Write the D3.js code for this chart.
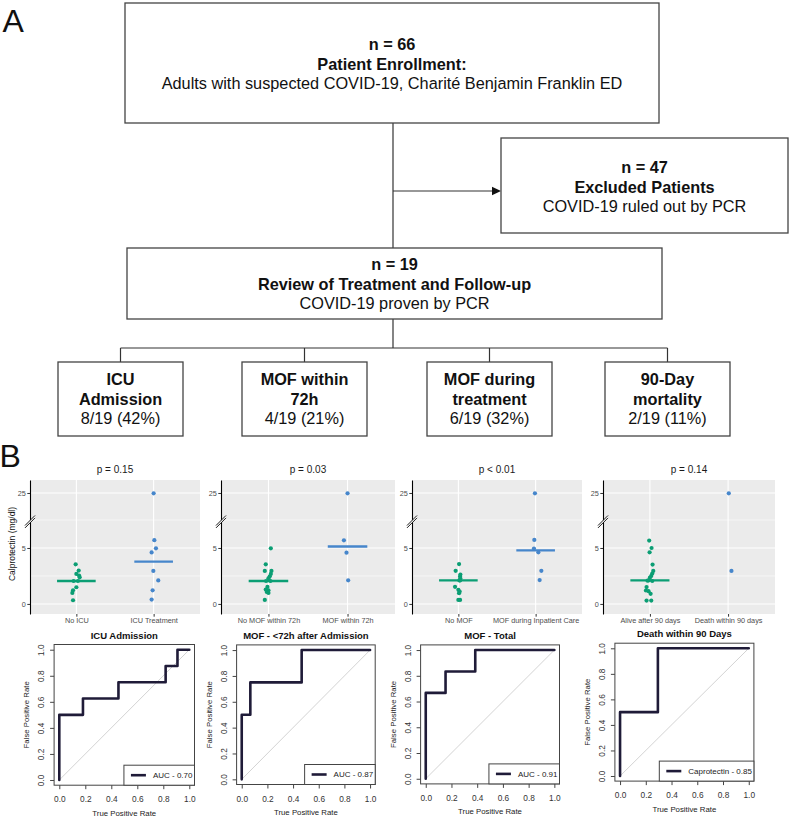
<!DOCTYPE html>
<html><head><meta charset="utf-8">
<script src="https://cdn.jsdelivr.net/npm/d3@7/dist/d3.min.js"></script>
<style>
html,body{margin:0;padding:0;background:#fff;}
svg{display:block;}
</style></head>
<body>
<svg id="fig" width="791" height="818"></svg>
<script>
// ================= DATA =================
// Flow chart (panel A)
const enrollText   = ["n = 66", "Patient Enrollment:", "Adults with suspected COVID-19, Charité Benjamin Franklin ED"];
const excludedText = ["n = 47", "Excluded Patients", "COVID-19 ruled out by PCR"];
const reviewText   = ["n = 19", "Review of Treatment and Follow-up", "COVID-19 proven by PCR"];
const outcomeNames  = [["ICU", "Admission"], ["MOF within", "72h"], ["MOF during", "treatment"], ["90-Day", "mortality"]];
const outcomeCounts = ["8/19 (42%)", "4/19 (21%)", "6/19 (32%)", "2/19 (11%)"];

// Dot plots (panel B, top row)
const pLabels = ["p = 0.15", "p = 0.03", "p < 0.01", "p = 0.14"];
const groupNames = [
  ["No ICU", "ICU Treatment"],
  ["No MOF within 72h", "MOF within 72h"],
  ["No MOF", "MOF during Inpatient Care"],
  ["Alive after 90 days", "Death within 90 days"]
];
const yTickValues  = [0, 5, 25];
const yMinorValues = [2.5, 7.5];
const yAxisTitle = "Calprotectin (mg/dl)";

// calprotectin values (mg/dl) and horizontal jitter (fraction of category step)
const noIcuValues = [3.54, 2.98, 2.68, 2.53, 2.38, 2.05, 2.05, 1.49, 1.22, 0.98, 0.33];
const noIcuJitter = [-0.009, 0.030, 0.0, 0.035, 0.043, -0.035, 0.020, 0.0, -0.043, -0.052, -0.043];
const icuValues   = [24.8, 5.70, 4.97, 4.60, 2.95, 2.10, 1.22, 0.39];
const icuJitter   = [0.0, 0.009, 0.030, -0.026, -0.004, 0.060, -0.013, -0.026];

const noMof72Values = [4.97, 3.54, 2.95, 2.95, 2.68, 2.47, 2.29, 2.05, 2.05, 1.52, 1.28, 1.22, 1.07, 0.98, 0.36];
const noMof72Jitter = [0.030, -0.034, -0.046, 0.038, 0.030, 0.017, 0.0, -0.030, 0.025, -0.013, -0.034, 0.0, -0.021, 0.0, -0.046];
const mof72Values   = [24.8, 5.68, 4.58, 2.11];
const mof72Jitter   = [0.0, -0.046, -0.013, 0.008];

const noMofValues = [3.56, 2.96, 2.63, 2.46, 2.28, 2.10, 2.10, 1.53, 1.26, 1.11, 0.96, 0.36, 0.36];
const noMofJitter = [0.009, -0.035, 0.026, 0.022, 0.026, 0.013, 0.022, -0.043, 0.0, 0.017, 0.009, 0.0, 0.022];
const mofValues   = [24.8, 5.72, 4.95, 4.61, 2.96, 2.13];
const mofJitter   = [-0.009, -0.017, -0.022, 0.035, 0.074, 0.052];

const alive90Values = [5.66, 5.00, 4.61, 3.52, 2.95, 2.71, 2.50, 2.35, 2.11, 2.08, 2.05, 1.51, 1.20, 1.14, 0.90, 0.30, 0.30];
const alive90Jitter = [-0.009, 0.021, -0.004, 0.034, 0.043, 0.030, 0.017, 0.0, -0.013, -0.030, 0.030, -0.043, -0.051, -0.017, 0.009, -0.043, 0.017];
const death90Values = [24.8, 2.95];
const death90Jitter = [0.009, 0.043];

// ROC curves (panel B, bottom row)
const rocTitles = ["ICU Admission", "MOF - <72h after Admission", "MOF - Total", "Death within 90 Days"];
const rocLegend = ["AUC - 0.70", "AUC - 0.87", "AUC - 0.91", "Caprotectin - 0.85"];
const rocTickValues = [0, 0.2, 0.4, 0.6, 0.8, 1.0];
const rocXTitle = "True Positive Rate";
const rocYTitle = "False Positive Rate";
const rocIcuX   = [0, 0, 0.182, 0.182, 0.455, 0.455, 0.818, 0.818, 0.909, 0.909, 1];
const rocIcuY   = [0, 0.5, 0.5, 0.625, 0.625, 0.75, 0.75, 0.875, 0.875, 1, 1];
const rocMof72X = [0, 0, 0.067, 0.067, 0.467, 0.467, 1];
const rocMof72Y = [0, 0.5, 0.5, 0.75, 0.75, 1, 1];
const rocMofX   = [0, 0, 0.154, 0.154, 0.385, 0.385, 1];
const rocMofY   = [0, 0.667, 0.667, 0.833, 0.833, 1, 1];
const rocDeathX = [0, 0, 0.294, 0.294, 1];
const rocDeathY = [0, 0.5, 0.5, 1, 1];

// ================= DRAWING =================
const FONT = '"Liberation Sans", Arial, Helvetica, sans-serif';
const svg = d3.select("#fig").attr("font-family", FONT);

// panel letters
svg.append("text").attr("x", 2.5).attr("y", 31.5).attr("font-size", 32).attr("fill", "#111").text("A");
svg.append("text").attr("x", -0.5).attr("y", 467).attr("font-size", 32).attr("fill", "#111").text("B");

// ---------- Flow chart ----------
const LINE_C = "#333", BOX_C = "#444";
const conn = svg.append("g").attr("stroke", LINE_C).attr("stroke-width", 1.2).attr("fill", "none");
const outLefts = [58, 242, 427, 605], outW = 125, outTop = 362, outH = 74;
const outCenters = outLefts.map(l => l + outW / 2);
conn.append("path").attr("d", "M393,123V248");
conn.append("path").attr("d", "M393,319V348");
conn.append("path").attr("d", `M${outCenters[0]},348H${outCenters[3]}`);
outCenters.forEach(c => conn.append("path").attr("d", `M${c},348V${outTop}`));
conn.append("path").attr("d", "M393,191H494");
svg.append("path").attr("d", "M501,191L492,186.8L492,195.2Z").attr("fill", "#111");

function drawBox(x, y, w, h) {
  svg.append("rect").attr("x", x).attr("y", y).attr("width", w).attr("height", h)
    .attr("fill", "#fff").attr("stroke", BOX_C).attr("stroke-width", 1.3);
}
function drawLines(cx, baselines, texts, weights) {
  texts.forEach((t, i) => svg.append("text").attr("x", cx).attr("y", baselines[i])
    .attr("text-anchor", "middle").attr("font-size", 16.3).attr("font-weight", weights[i])
    .attr("fill", "#111").text(t));
}
drawBox(125, 3, 534, 120);
drawLines(392, [50.3, 69.5, 88.6], enrollText, ["bold", "bold", "normal"]);
drawBox(501, 138, 287, 95);
drawLines(644.5, [172.7, 192.8, 212.3], excludedText, ["bold", "bold", "normal"]);
drawBox(127, 248, 535, 71);
drawLines(394.5, [270, 289.5, 309], reviewText, ["bold", "bold", "normal"]);
outLefts.forEach((l, i) => {
  drawBox(l, outTop, outW, outH);
  drawLines(outCenters[i], [385, 404.5, 424],
    [outcomeNames[i][0], outcomeNames[i][1], outcomeCounts[i]], ["bold", "bold", "normal"]);
});

// ---------- Dot plots ----------
const GREEN = "#0B9E74", BLUE = "#4686CB";
const dotPanels = [
  { left: 30,  right: 200, neg: noIcuValues,   negJ: noIcuJitter,   pos: icuValues,     posJ: icuJitter },
  { left: 221, right: 395, neg: noMof72Values, negJ: noMof72Jitter, pos: mof72Values,   posJ: mof72Jitter },
  { left: 412, right: 582, neg: noMofValues,   negJ: noMofJitter,   pos: mofValues,     posJ: mofJitter },
  { left: 603, right: 775, neg: alive90Values, negJ: alive90Jitter, pos: death90Values, posJ: death90Jitter }
];
const PT = 480, PB = 614;
const yDot = d3.scaleLinear().domain([-0.9, 7.5, 33.4]).range([PB, 520, PT]);

dotPanels.forEach((p, i) => {
  const g = svg.append("g");
  const x = d3.scalePoint().domain(groupNames[i]).range([p.left, p.right]).padding(0.6);
  const step = x.step();
  g.append("rect").attr("x", p.left).attr("y", PT).attr("width", p.right - p.left).attr("height", PB - PT).attr("fill", "#EBEBEB");
  g.selectAll(".mn").data(yMinorValues).join("line")
    .attr("x1", p.left).attr("x2", p.right).attr("y1", d => yDot(d)).attr("y2", d => yDot(d))
    .attr("stroke", "#fff").attr("stroke-width", 0.55);
  g.selectAll(".mj").data(yTickValues).join("line")
    .attr("x1", p.left).attr("x2", p.right).attr("y1", d => yDot(d)).attr("y2", d => yDot(d))
    .attr("stroke", "#fff").attr("stroke-width", 1.1);
  g.selectAll(".vg").data(x.domain()).join("line")
    .attr("x1", d => x(d)).attr("x2", d => x(d)).attr("y1", PT).attr("y2", PB)
    .attr("stroke", "#fff").attr("stroke-width", 1.1);

  const groups = [
    { name: groupNames[i][0], vals: p.neg, jit: p.negJ, col: GREEN },
    { name: groupNames[i][1], vals: p.pos, jit: p.posJ, col: BLUE }
  ];
  groups.forEach(gr => {
    const med = d3.median(gr.vals);
    if (!(med > 7.5 && med < 25)) {
      g.append("line").attr("x1", x(gr.name) - 0.25 * step).attr("x2", x(gr.name) + 0.25 * step)
        .attr("y1", yDot(med)).attr("y2", yDot(med)).attr("stroke", gr.col).attr("stroke-width", 2.3);
    }
  });
  groups.forEach(gr => {
    g.selectAll(null).data(gr.vals).join("circle")
      .attr("cx", (d, k) => x(gr.name) + gr.jit[k] * step)
      .attr("cy", d => yDot(d)).attr("r", 2.1).attr("fill", gr.col);
  });

  // y axis
  const gy = g.append("g").attr("transform", `translate(${p.left},0)`)
    .call(d3.axisLeft(yDot).tickValues(yTickValues).tickSize(2.7).tickSizeOuter(0).tickPadding(1.5));
  gy.attr("font-family", FONT).attr("font-size", 7.3);
  gy.select(".domain").attr("stroke", "#000").attr("stroke-width", 1.1);
  gy.selectAll(".tick line").attr("stroke", "#333").attr("stroke-width", 1);
  gy.selectAll(".tick text").attr("fill", "#4D4D4D");
  // axis break mark
  const L = p.left, yb = yDot(7.5) + 1.5;
  g.append("path").attr("d", `M${L - 5},${yb + 4}L${L + 5},${yb - 6}L${L + 5},${yb - 3.6}L${L - 5},${yb + 6.4}Z`).attr("fill", "#fff");
  g.append("path").attr("d", `M${L - 5},${yb + 4}L${L + 5},${yb - 6}M${L - 5},${yb + 6.4}L${L + 5},${yb - 3.6}`)
    .attr("stroke", "#000").attr("stroke-width", 0.9);

  // x axis
  const gx = g.append("g").attr("transform", `translate(0,${PB})`)
    .call(d3.axisBottom(x).tickSize(2.7).tickSizeOuter(0).tickPadding(1.4));
  gx.attr("font-family", FONT).attr("font-size", 7.3);
  gx.select(".domain").remove();
  gx.selectAll(".tick line").attr("stroke", "#333").attr("stroke-width", 1);
  gx.selectAll(".tick text").attr("fill", "#4D4D4D");

  g.append("text").attr("x", (p.left + p.right) / 2).attr("y", 473).attr("text-anchor", "middle")
    .attr("font-size", 10).attr("fill", "#1a1a1a").text(pLabels[i]);
  if (i === 0) {
    g.append("text").attr("transform", `translate(15,544) rotate(-90)`).attr("text-anchor", "middle")
      .attr("font-size", 8.5).attr("fill", "#111").text(yAxisTitle);
  }
});

// ---------- ROC curves ----------
const ROC_C = "#1F1B38";
const rocPanels = [
  { left: 54.1,  top: 644.5, w: 140.4, h: 140.7, xs: rocIcuX,   ys: rocIcuY },
  { left: 236.6, top: 644.9, w: 138.6, h: 139.6, xs: rocMof72X, ys: rocMof72Y },
  { left: 420.6, top: 644.9, w: 138.9, h: 139.0, xs: rocMofX,   ys: rocMofY },
  { left: 614.9, top: 643.2, w: 139.0, h: 137.9, xs: rocDeathX, ys: rocDeathY }
];
rocPanels.forEach((p, i) => {
  const g = svg.append("g");
  const x = d3.scaleLinear().domain([-0.04, 1.04]).range([p.left, p.left + p.w]);
  const y = d3.scaleLinear().domain([-0.04, 1.04]).range([p.top + p.h, p.top]);
  const bottom = p.top + p.h;

  g.append("line").attr("x1", x(0)).attr("y1", y(0)).attr("x2", x(1)).attr("y2", y(1))
    .attr("stroke", "#C8C8C8").attr("stroke-width", 0.8);
  const pts = p.xs.map((v, k) => [v, p.ys[k]]);
  g.append("path").attr("d", d3.line().x(d => x(d[0])).y(d => y(d[1]))(pts))
    .attr("fill", "none").attr("stroke", ROC_C).attr("stroke-width", 2.6)
    .attr("stroke-linejoin", "round").attr("stroke-linecap", "round");
  g.append("rect").attr("x", p.left).attr("y", p.top).attr("width", p.w).attr("height", p.h)
    .attr("fill", "none").attr("stroke", "#444").attr("stroke-width", 1);

  const fmt = d3.format(".1f");
  const gx = g.append("g").attr("transform", `translate(0,${bottom})`)
    .call(d3.axisBottom(x).tickValues(rocTickValues).tickFormat(fmt).tickSize(4).tickSizeOuter(0).tickPadding(7.4));
  gx.attr("font-family", FONT).attr("font-size", 8.3);
  gx.select(".domain").remove();
  gx.selectAll(".tick line").attr("stroke", "#444");
  gx.selectAll(".tick text").attr("fill", "#333");

  const gy = g.append("g").attr("transform", `translate(${p.left},0)`)
    .call(d3.axisLeft(y).tickValues(rocTickValues).tickFormat(fmt).tickSize(4).tickSizeOuter(0));
  gy.attr("font-family", FONT).attr("font-size", 8.3);
  gy.select(".domain").remove();
  gy.selectAll(".tick line").attr("stroke", "#444");
  gy.selectAll(".tick text").attr("fill", "#333").attr("x", null).attr("dy", null)
    .attr("text-anchor", "middle").attr("transform", "translate(-10,0) rotate(-90)");

  g.append("text").attr("x", p.left + p.w / 2).attr("y", p.top - 6).attr("text-anchor", "middle")
    .attr("font-size", 9.5).attr("font-weight", "bold").attr("fill", "#111").text(rocTitles[i]);
  g.append("text").attr("x", p.left + p.w / 2).attr("y", bottom + 30.5).attr("text-anchor", "middle")
    .attr("font-size", 7.8).attr("fill", "#222").text(rocXTitle);
  g.append("text").attr("transform", `translate(${p.left - 25},${p.top + p.h / 2}) rotate(-90)`)
    .attr("text-anchor", "middle").attr("font-size", 7.8).attr("fill", "#222").text(rocYTitle);

  // legend (bottom right)
  const lg = g.append("g");
  const rect = lg.append("rect");
  const t = lg.append("text").attr("font-size", 8).attr("fill", "#222").text(rocLegend[i]);
  const tw = t.node().getComputedTextLength();
  const bw = tw + 31, bh = 20;
  const bx = p.left + p.w - bw, by = bottom - bh;
  rect.attr("x", bx).attr("y", by).attr("width", bw).attr("height", bh)
    .attr("fill", "#fff").attr("stroke", "#444").attr("stroke-width", 1);
  lg.append("line").attr("x1", bx + 7).attr("x2", bx + 22).attr("y1", by + bh / 2).attr("y2", by + bh / 2)
    .attr("stroke", ROC_C).attr("stroke-width", 2.6);
  t.attr("x", bx + 29).attr("y", by + 12.9);
});
</script>
</body></html>
